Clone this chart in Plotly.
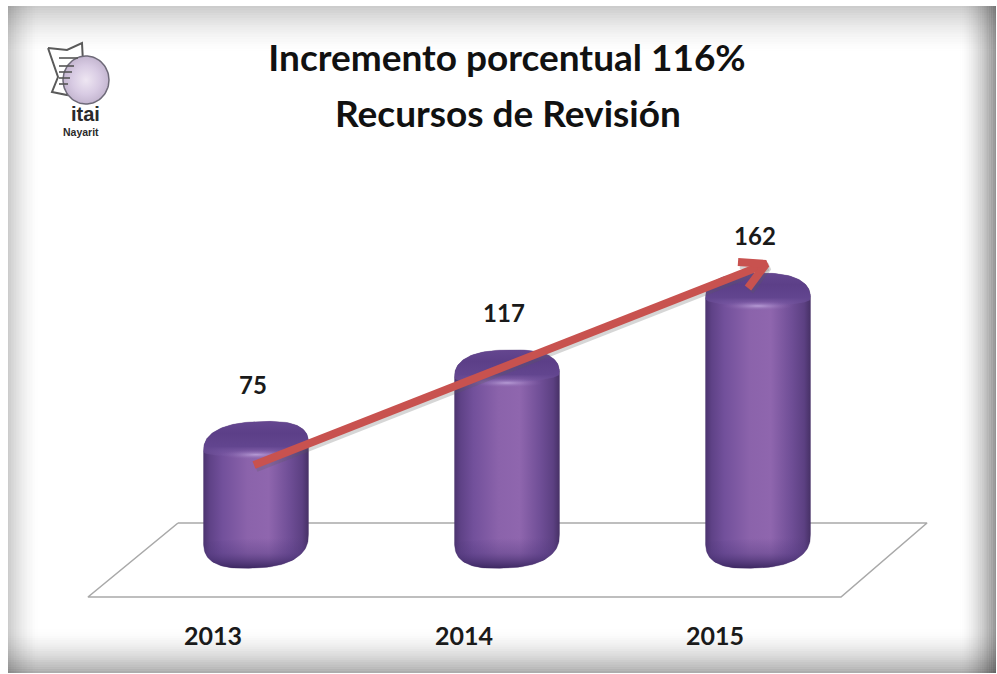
import numpy as np
import plotly.graph_objects as go

# ---- data ----
categories = ["2013", "2014", "2015"]
values = [75, 117, 162]
title_line1 = "Incremento porcentual 116%"
title_line2 = "Recursos de Revisión"

# ---- canvas / scale constants ----
W, H = 997, 674
PLOT_BOTTOM = 619
X0_PX, X_STEP = 256.0, 251.0      # pixel of category 0, pixels per category
Y0_PX, Y_STEP = 566.0, 1.71       # pixel of value 0, pixels per value unit
FONT = "Lato"


def dx(px):
    return (np.asarray(px, float) - X0_PX) / X_STEP


def dy(py):
    return (Y0_PX - np.asarray(py, float)) / Y_STEP


def px_x(p):
    return p / W


def px_y(p):
    return (PLOT_BOTTOM - p) / PLOT_BOTTOM


fig = go.Figure()
shapes = []

# ---- vignette frame ----
L, T, R, B = 8, 6, 996, 673


def strip(x0, y0, x1, y1, op):
    shapes.append(dict(type="rect", xref="paper", yref="paper", layer="below",
                       x0=px_x(x0), x1=px_x(x1), y0=px_y(y0), y1=px_y(y1),
                       fillcolor="black", opacity=float(op), line=dict(width=0)))


def falloff(i, n, peak):
    return peak * (1 - i / n) ** 1.7


N = 20
for i in range(N):
    strip(L + i * 1.6, T, L + (i + 1) * 1.6, B, falloff(i, N, 0.20))      # left
for i in range(N):
    strip(R - (i + 1) * 1.8, T, R - i * 1.8, B, falloff(i, N, 0.42))      # right
for i in range(N):
    strip(L, T + i * 2.4, R, T + (i + 1) * 2.4, falloff(i, N, 0.20))      # top
for i in range(N):
    strip(L, B - (i + 1) * 2.2, R, B - i * 2.2, falloff(i, N, 0.32))      # bottom

# ---- floor ----
floor_px_x = [178, 927, 841, 88, 178]
floor_px_y = [523, 523, 597, 597, 523]
fig.add_trace(go.Scatter(x=dx(floor_px_x), y=dy(floor_px_y), mode="lines",
                         line=dict(color="#a9a9a9", width=1.6), hoverinfo="skip"))

# ---- cylinders ----
HALF_W = 52.5
CAP_SHIFT = 10.0      # silhouette centre below the value level
CAP_B = 26.0
RIM_B = 7.0
FOOT_B = 30.0
BASE_PX = 538.0
top_tilts = [4.0, 2.0, 0.0]
FOOT_TILT = 4.0
SIDE_SCALE = [
    [0.00, "#4c3470"], [0.06, "#5f4287"], [0.18, "#72509b"], [0.42, "#8b63ab"],
    [0.62, "#8f66ae"], [0.82, "#6f4e96"], [0.94, "#5c4082"], [1.00, "#473166"],
]


def arc(i, center_py, b, tilt, t, p=0.78):
    """Superellipse points, returned in data coordinates."""
    c, s = np.cos(t), np.sin(t)
    xp = X0_PX + i * X_STEP + HALF_W * np.sign(c) * np.abs(c) ** p
    yp = center_py + b * np.sign(s) * np.abs(s) ** p - tilt * c
    return dx(xp), dy(yp)


for i, v in enumerate(values):
    center_py = Y0_PX - v * Y_STEP + CAP_SHIFT
    base_t = np.linspace(0, np.pi, 60)              # right -> bottom -> left
    top_t = np.linspace(np.pi, 2 * np.pi, 60)       # left -> top -> right
    bx, by = arc(i, BASE_PX, FOOT_B, FOOT_TILT, base_t)
    tx, ty = arc(i, center_py, CAP_B, top_tilts[i], top_t)

    # body
    fig.add_trace(go.Scatter(
        x=np.r_[tx, bx, tx[0]], y=np.r_[ty, by, ty[0]], mode="lines", fill="toself",
        line=dict(width=0.6, color="rgba(70,50,105,0.55)"),
        fillgradient=dict(type="horizontal", colorscale=SIDE_SCALE), hoverinfo="skip"))

    # darker foot
    fig.add_trace(go.Scatter(
        x=np.r_[bx, bx[0]], y=np.r_[by, by[0]], mode="lines", fill="toself",
        line=dict(width=0),
        fillgradient=dict(type="vertical",
                          start=float(dy(BASE_PX)), stop=float(dy(BASE_PX + FOOT_B)),
                          colorscale=[[0, "rgba(80,55,125,0)"], [0.5, "rgba(80,55,125,0.35)"],
                                      [1, "rgba(58,38,95,0.95)"]]),
        hoverinfo="skip"))

    # cap: silhouette on top, shallow rim below
    rim_t = np.linspace(0, np.pi, 60)
    rx, ry = arc(i, center_py, RIM_B, top_tilts[i], rim_t, p=1.0)
    fig.add_trace(go.Scatter(
        x=np.r_[tx, rx, tx[0]], y=np.r_[ty, ry, ty[0]], mode="lines", fill="toself",
        line=dict(width=0),
        fillgradient=dict(type="vertical",
                          start=float(dy(center_py - CAP_B)), stop=float(dy(center_py + RIM_B)),
                          colorscale=[[0, "#64468f"], [0.35, "#5c3f88"], [0.75, "#62458f"],
                                      [1, "rgba(120,90,165,0.35)"]]),
        hoverinfo="skip"))

    # rim highlight
    hl_t = np.linspace(0, 2 * np.pi, 60)
    hx = i + 36 / X_STEP * np.cos(hl_t)
    hy = dy(center_py + RIM_B + 5 * np.sin(hl_t))
    fig.add_trace(go.Scatter(
        x=hx, y=hy, mode="lines", fill="toself", line=dict(width=0),
        fillgradient=dict(type="radial", colorscale=[
            [0, "rgba(190,165,220,0.85)"], [1, "rgba(130,95,170,0)"]]),
        hoverinfo="skip"))

# ---- value labels ----
LABEL_SHIFT = -3.0 / X_STEP
fig.add_trace(go.Scatter(
    x=[k + LABEL_SHIFT for k in range(len(values))], y=[v + 29 for v in values], mode="text",
    text=[str(v) for v in values], textposition="middle center",
    textfont=dict(family=FONT, size=24, color="#1a1a1a", weight="bold"),
    hoverinfo="skip"))

# ---- growth arrow ----
ARROW_START = (dx(254), dy(465))
ARROW_TIP = (dx(766), dy(264))
ARM_A = (dx(738), dy(262))
ARM_B = (dx(748), dy(288))
SHADOW = (2.0 / X_STEP, -3.0 / Y_STEP)
ax = [ARROW_START[0], ARROW_TIP[0], None, ARM_A[0], ARROW_TIP[0], ARM_B[0]]
ay = [ARROW_START[1], ARROW_TIP[1], None, ARM_A[1], ARROW_TIP[1], ARM_B[1]]
fig.add_trace(go.Scatter(
    x=[None if a is None else a + SHADOW[0] for a in ax],
    y=[None if a is None else a + SHADOW[1] for a in ay],
    mode="lines", line=dict(color="rgba(90,90,90,0.25)", width=8), hoverinfo="skip"))
fig.add_trace(go.Scatter(x=ax, y=ay, mode="lines",
                         line=dict(color="#c8524f", width=8), hoverinfo="skip"))

# ---- logo ----
page_x = [48, 67, 82, 83, 72, 67, 52, 58, 48]
page_y = [48, 50, 43, 62, 80, 95, 92, 77, 48]
fig.add_trace(go.Scatter(x=dx(page_x), y=dy(page_y), mode="lines", fill="toself",
                         fillcolor="white", line=dict(color="#5a5a5a", width=2), hoverinfo="skip"))
circ_t = np.linspace(0, 2 * np.pi, 80)
fig.add_trace(go.Scatter(
    x=dx(86 + 23 * np.cos(circ_t)), y=dy(80 + 24 * np.sin(circ_t)), mode="lines", fill="toself",
    line=dict(color="#6e6a78", width=1.5),
    fillgradient=dict(type="radial", colorscale=[[0, "#eee6f2"], [0.6, "#d8cbe3"], [1, "#c4b6d0"]]),
    hoverinfo="skip"))
for ly, lx1 in zip([58, 66, 72, 78, 84], [78, 74, 72, 70, 68]):
    fig.add_trace(go.Scatter(x=dx([59, lx1]), y=dy([ly, ly]), mode="lines",
                             line=dict(color="#555555", width=1.6), hoverinfo="skip"))

annotations = [
    dict(text="<b>itai</b>", x=dx(85), y=dy(114), xref="x", yref="y", showarrow=False,
         font=dict(family="Liberation Sans", size=20, color="#2a2a2a")),
    dict(text="<b>Nayarit</b>", x=dx(81), y=dy(132), xref="x", yref="y", showarrow=False,
         font=dict(family="Liberation Sans", size=10.5, color="#2a2a2a")),
    dict(text=title_line2, x=dx(507.5), y=dy(112), xref="x", yref="y", showarrow=False,
         font=dict(family=FONT, size=37, color="#111111", weight="bold")),
]

fig.update_layout(
    width=W, height=H,
    margin=dict(l=0, r=0, t=0, b=H - PLOT_BOTTOM, pad=0),
    paper_bgcolor="white", plot_bgcolor="rgba(0,0,0,0)",
    showlegend=False, shapes=shapes, annotations=annotations,
    title=dict(text=title_line1, x=507 / W, xanchor="center", y=1 - 58 / H, yanchor="middle",
               font=dict(family=FONT, size=37, color="#111111", weight="bold")),
    xaxis=dict(range=[float(dx(0)), float(dx(W))], tickmode="array",
               tickvals=[k - 43.0 / X_STEP for k in range(len(categories))], ticktext=categories,
               showgrid=False, zeroline=False, showline=False, ticks="",
               tickfont=dict(family=FONT, size=25, color="#1a1a1a", weight="bold")),
    yaxis=dict(range=[float(dy(PLOT_BOTTOM)), float(dy(0))], visible=False),
)

fig.write_html("out.html", config=dict(displayModeBar=False),
               post_script="document.body.style.margin='0';")
